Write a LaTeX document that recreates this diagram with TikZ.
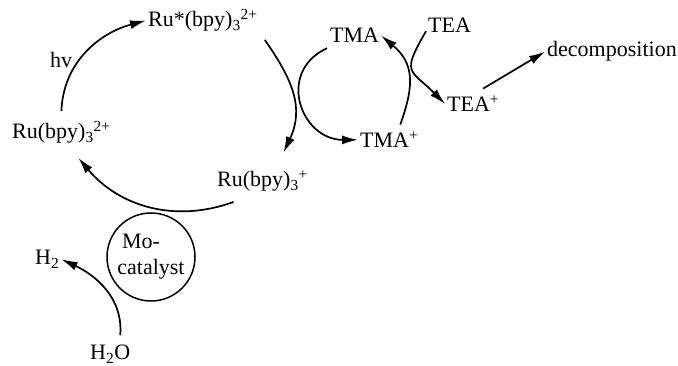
\documentclass[tikz,border=0pt]{standalone}
\usepackage{fontspec}
\setmainfont{Liberation Serif}
\usetikzlibrary{arrows.meta}
\tikzset{
  species/.style={inner sep=2pt, font=\fontsize{22}{26}\selectfont},
  react/.style={-{Latex[length=16pt,width=9pt]}, line width=1.7pt},
}
\begin{document}
\begin{tikzpicture}[x=1pt, y=1pt]
\useasboundingbox (0,0) rectangle (678,366);
% Ru cycle
\node[species, anchor=base west] (rustar) at (146,339) {Ru*(bpy)\textsubscript{3}\textsuperscript{2+}};
\node[species, anchor=base west] (ru2) at (10,227) {Ru(bpy)\textsubscript{3}\textsuperscript{2+}};
\node[species, anchor=base west] (rup) at (215,179) {Ru(bpy)\textsubscript{3}\textsuperscript{+}};
\node[species, anchor=base west] (hv) at (48,298) {hv};
% amines
\node[species, anchor=base west] (tma) at (328,323) {TMA};
\node[species, anchor=base west] (tmap) at (358,218) {TMA\textsuperscript{+}};
\node[species, anchor=base west] (tea) at (426,333) {TEA};
\node[species, anchor=base west] (teap) at (445,254) {TEA\textsuperscript{+}};
\node[species, anchor=base west] (decomp) at (545,309) {decomposition};
% water side
\node[species, draw, circle, line width=1.5pt, minimum size=88pt, align=center] (mocat) at (151,109) {Mo-\hspace*{0.9em}\\catalyst};
\node[species, anchor=base west] (h2) at (33,101) {H\textsubscript{2}};
\node[species, anchor=base west] (h2o) at (88,6) {H\textsubscript{2}O};

\draw[react] ([yshift=8]ru2.north) to[out=88, in=195] (rustar.west);
\draw[react] ([xshift=5, yshift=-6]rustar.south east) to[out=-55, in=65, looseness=1.1] ([xshift=21, yshift=16]rup.north);
\draw[react] ([xshift=-29, yshift=-8]rup.south) to[out=200, in=-50] ([xshift=17, yshift=-12]ru2.south);
\draw[react] ([xshift=-1, yshift=-3]tma.south west) to[out=205, in=180, looseness=1.5] (tmap.west);
\draw[react] ([xshift=11, yshift=5]tmap.north) to[out=70, in=-40, looseness=1.2] (tma.east);
\draw[react] ([yshift=4]tea.south west) to[out=240, in=135, looseness=1.7] (teap.west);
\draw[react] ([xshift=10, yshift=5]teap.north) -- (decomp.west);
\draw[react] ([xshift=10, yshift=8]h2o.north) to[out=85, in=-25] (h2.east);
\end{tikzpicture}
\end{document}
